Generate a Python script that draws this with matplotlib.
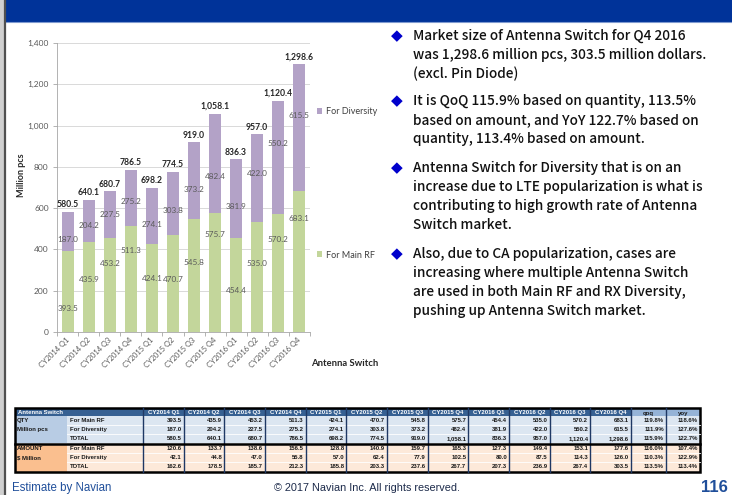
import matplotlib
matplotlib.use("Agg")
from matplotlib import pyplot as plt
from matplotlib.patches import Rectangle
import numpy as np

W, H = 732, 495

quarters = ["CY2014 Q1", "CY2014 Q2", "CY2014 Q3", "CY2014 Q4",
            "CY2015 Q1", "CY2015 Q2", "CY2015 Q3", "CY2015 Q4",
            "CY2016 Q1", "CY2016 Q2", "CY2016 Q3", "CY2016 Q4"]
main_rf = [393.5, 435.9, 453.2, 511.3, 424.1, 470.7, 545.8, 575.7, 454.4, 535.0, 570.2, 683.1]
diversity = [187.0, 204.2, 227.5, 275.2, 274.1, 303.8, 373.2, 482.4, 381.9, 422.0, 550.2, 615.5]
total_qty = [580.5, 640.1, 680.7, 786.5, 698.2, 774.5, 919.0, 1058.1, 836.3, 957.0, 1120.4, 1298.6]

amt_main = [120.6, 133.7, 138.6, 156.5, 128.8, 140.9, 159.7, 165.3, 127.3, 149.4, 153.1, 177.6]
amt_div = [42.1, 44.8, 47.0, 55.8, 57.0, 62.4, 77.9, 102.5, 80.0, 87.5, 114.3, 126.0]
amt_total = [162.6, 178.5, 185.7, 212.3, 185.8, 203.3, 237.6, 267.7, 207.3, 236.9, 267.4, 303.5]

qty_qoq = ["119.8%", "111.9%", "115.9%"]
qty_yoy = ["118.6%", "127.6%", "122.7%"]
amt_qoq = ["116.0%", "110.3%", "113.5%"]
amt_yoy = ["107.4%", "122.9%", "113.4%"]

# where the excel labels were dragged to (data units)
main_lbl_y = [116, 256, 333, 397, 261, 256, 339, 470, 203, 334, 450, 552]
div_lbl_y = [450, 518, 571, 634, 523, 591, 688, 751, 610, 770, 915, 1051]

bullets = [
    ["Market size of Antenna Switch for Q4 2016",
     "was 1,298.6 million pcs, 303.5 million dollars.",
     "(excl. Pin Diode)"],
    ["It is QoQ 115.9% based on quantity, 113.5%",
     "based on amount, and YoY 122.7% based on",
     "quantity, 113.4% based on amount."],
    ["Antenna Switch for Diversity that is on an",
     "increase due to LTE popularization is what is",
     "contributing to high growth rate of Antenna",
     "Switch market."],
    ["Also, due to CA popularization, cases are",
     "increasing where multiple Antenna Switch",
     "are used in both Main RF and RX Diversity,",
     "pushing up Antenna Switch market."],
]

GREEN = "#c3d69b"
PURPLE = "#b3a2c7"
GREY = "#595959"
CHART_FONT = ["Lato", "DejaVu Sans"]

fig = plt.figure(figsize=(W / 100, H / 100), dpi=100, facecolor="white")

# background layer in pixel coords
bg = fig.add_axes([0, 0, 1, 1])
bg.set_xlim(0, W)
bg.set_ylim(H, 0)
bg.axis("off")

bg.add_patch(Rectangle((6, 0), W - 6, 21.5, color="#003399", lw=0))
bg.plot([6, W], [22, 22], color="#7f9ad0", lw=0.8)
bg.add_patch(Rectangle((0, 0), 6, H, color="#d0d0d0", lw=0))
bg.plot([4.5, 4.5], [0, H], color="#505050", lw=1.6)

# ---- chart ----
ax = fig.add_axes([57 / W, 1 - 332 / H, 253 / W, (332 - 43) / H])
x = np.arange(len(quarters))
b_main = ax.bar(x, main_rf, width=0.57, color=GREEN, zorder=2, label="For Main RF")
b_div = ax.bar(x, diversity, width=0.57, bottom=main_rf, color=PURPLE, zorder=2,
               label="For Diversity")

for i in range(len(quarters)):
    ax.text(x[i], main_lbl_y[i], "%.1f" % main_rf[i], ha="center", va="center",
            fontsize=5.9, color=GREY, family=CHART_FONT, zorder=3)
    ax.text(x[i], div_lbl_y[i], "%.1f" % diversity[i], ha="center", va="center",
            fontsize=5.9, color=GREY, family=CHART_FONT, zorder=3)
    ax.annotate("{:,.1f}".format(total_qty[i]), (x[i], total_qty[i]),
                xytext=(0, 2), textcoords="offset points", ha="center", va="bottom",
                fontsize=6.2, fontweight="bold", color="#262626", family=CHART_FONT)

ax.set_xlim(-0.52, 11.52)
ax.set_ylim(0, 1400)
ax.set_yticks(range(0, 1401, 200))
ax.set_yticklabels(["{:,}".format(v) for v in range(0, 1401, 200)],
                   fontsize=6, color=GREY, family=CHART_FONT)
ax.set_xticks(x)
ax.set_xticklabels(quarters, rotation=45, ha="right", va="center",
                   rotation_mode="anchor", fontsize=5.4, color=GREY, family=CHART_FONT)
ax.set_xticks(np.arange(-0.5, 12, 1), minor=True)
ax.tick_params(axis="x", which="major", length=0, pad=5)
ax.tick_params(axis="x", which="minor", length=3, color="#a6a6a6", width=0.6)
ax.tick_params(axis="y", length=3, color="#a6a6a6", width=0.6, pad=3)
ax.grid(axis="y", color="#d9d9d9", lw=0.7, zorder=0)
ax.set_axisbelow(True)
for s in ["top", "right"]:
    ax.spines[s].set_visible(False)
ax.spines["left"].set_color("#a6a6a6")
ax.spines["bottom"].set_color("#a6a6a6")
ax.spines["left"].set_linewidth(0.6)
ax.spines["bottom"].set_linewidth(0.6)

leg_kw = dict(frameon=False, loc="center left", handlelength=0.6,
              handleheight=0.6, handletextpad=0.5, borderpad=0,
              bbox_transform=fig.transFigure, prop={"family": CHART_FONT, "size": 6.5})
leg_div = ax.legend(handles=[b_div], bbox_to_anchor=(312 / W, 1 - 112 / H), **leg_kw)
ax.add_artist(leg_div)
leg_main = ax.legend(handles=[b_main], bbox_to_anchor=(312 / W, 1 - 255 / H), **leg_kw)
for lg in (leg_div, leg_main):
    for t in lg.get_texts():
        t.set_color("#404040")

fig.text(22 / W, 1 - 175 / H, "Million pcs", rotation=90, ha="center", va="center",
         fontsize=6.5, fontweight="bold", color="#262626", family=CHART_FONT)
fig.text(345 / W, 1 - 364 / H, "Antenna Switch", ha="center", va="center",
         fontsize=6.8, fontweight="bold", color="#262626", family=CHART_FONT)

# ---- bullet text ----
TXT_FONT = ["Noto Sans CJK JP", "DejaVu Sans"]
para_top = [36, 101, 168, 254]
for top, lines in zip(para_top, bullets):
    bg.text(397, top, "\u25c6", ha="center", va="center", fontsize=11,
            color="#0000cc", family="DejaVu Sans")
    for k, line in enumerate(lines):
        bg.text(413, top + k * 19, line, ha="left", va="center", fontsize=9.8,
                fontweight="medium", color="#111111", family=TXT_FONT)

# ---- table ----
col_edges = [15, 67, 143] + [143 + 40.67 * k for k in range(1, 13)] + [666, 700]
qty_rows = [(416, 425), (425, 434), (434, 443)]
amt_rows = [(444, 453), (453, 462), (462, 472)]
TFONT = dict(fontsize=4.3, fontweight="bold", family=["Liberation Sans", "DejaVu Sans"])

def cell(x0, x1, y0, y1, color):
    bg.add_patch(Rectangle((x0, y0), x1 - x0, y1 - y0, color=color, lw=0))

# header
cell(15, 631, 408, 416, "#366092")
cell(631, 700, 408, 416, "#95b3d7")
bg.text(18, 412.5, "Antenna Switch", ha="left", va="center", color="white", **TFONT)
for j, q in enumerate(quarters):
    bg.text((col_edges[2 + j] + col_edges[3 + j]) / 2, 412.5, q, ha="center", va="center",
            color="white", **TFONT)
bg.text((631 + 666) / 2, 413, "qoq", ha="center", va="center", color="#1a1a1a", **TFONT)
bg.text((666 + 700) / 2, 413, "yoy", ha="center", va="center", color="#1a1a1a", **TFONT)

blocks = [
    (qty_rows, "#b8cce4", "#dce6f1", ["QTY", "Million pcs"],
     [main_rf, diversity, total_qty], qty_qoq, qty_yoy),
    (amt_rows, "#fabf8f", "#fde9d9", ["AMOUNT", "$ Million"],
     [amt_main, amt_div, amt_total], amt_qoq, amt_yoy),
]
row_names = ["For Main RF", "For Diversity", "TOTAL"]
for rows, c_label, c_fill, labels, series, qoq, yoy in blocks:
    cell(15, 67, rows[0][0], rows[-1][1], c_label)
    cell(67, 700, rows[0][0], rows[-1][1], c_fill)
    for r, (y0, y1) in enumerate(rows):
        ym = (y0 + y1) / 2
        if r < 2:
            bg.text(17, ym, labels[r], ha="left", va="center", color="#1a1a1a", **TFONT)
        bg.text(70, ym, row_names[r], ha="left", va="center", color="#1a1a1a", **TFONT)
        for j, v in enumerate(series[r]):
            bg.text(col_edges[3 + j] - 2, ym, "{:,.1f}".format(v), ha="right", va="center",
                    color="#1a1a1a", **TFONT)
        bg.text(664, ym, qoq[r], ha="right", va="center", color="#1a1a1a", **TFONT)
        bg.text(698, ym, yoy[r], ha="right", va="center", color="#1a1a1a", **TFONT)
        if r > 0:
            bg.plot([67, 700], [y0, y0], color="white", lw=0.6)

for xe in col_edges[2:-1]:
    bg.plot([xe, xe], [408, 472], color="#1f3864", lw=1.0)
bg.plot([15, 700], [443.5, 443.5], color="black", lw=1.8)
bg.add_patch(Rectangle((15, 408), 685, 64, fill=False, ec="black", lw=1.8))

# ---- footer ----
bg.text(12, 488, "Estimate by Navian", ha="left", va="center", fontsize=8.3,
        color="#1f4e9a", family=["Liberation Sans", "DejaVu Sans"])
bg.text(367, 488, "\u00a9 2017 Navian Inc. All rights reserved.", ha="center", va="center",
        fontsize=7.8, color="#1c2a4a", family=["Liberation Sans", "DejaVu Sans"])
bg.text(728, 487, "116", ha="right", va="center", fontsize=12, fontweight="bold",
        color="#1f4e9a", family=["Liberation Sans", "DejaVu Sans"])

fig.savefig("out.png", dpi=100, facecolor="white")
